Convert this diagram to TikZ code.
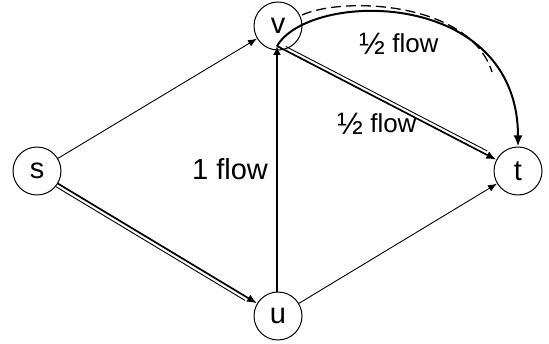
\documentclass[tikz,border=0pt]{standalone}
\usepackage{fontspec}
\setmainfont{Liberation Sans}
\usetikzlibrary{arrows.meta}
\newcommand\myhalf{\raisebox{-1.5pt}{\fontsize{31}{31}\selectfont ½}}
\tikzset{
  vert/.style={circle, draw, line width=1pt, minimum size=48pt, inner sep=0pt, font=\fontsize{29}{29}\selectfont},
  thinarrow/.style={line width=0.9pt, -{Latex[length=9pt,width=7pt]}},
  mainarrow/.style={line width=1.7pt, -{Latex[length=10pt,width=8pt]}},
  sideline/.style={line width=0.9pt},
  thickarrow/.style={line width=2.6pt, -{Latex[length=9pt,width=8pt]}},
  arcarrow/.style={line width=2pt, -{Latex[length=11pt,width=9pt]}},
  dasharc/.style={line width=1.3pt, dash pattern=on 10pt off 5pt},
  lbl/.style={anchor=base west, inner sep=0pt, font=\fontsize{26}{26}\selectfont},
  lblbig/.style={anchor=base, inner sep=0pt, font=\fontsize{29}{29}\selectfont}
}
\begin{document}
\begin{tikzpicture}[x=1pt, y=-1pt]
\useasboundingbox (0,0) rectangle (549,344);
\node[vert] (s) at (37,171) {s};
\node[vert] (v) at (278,26) {v};
\node[vert] (u) at (278,316) {u};
\node[vert] (t) at (518,171) {t};
\coordinate (vp) at (277,46);
\coordinate (up) at (277,292);
\coordinate (ds) at (302,15);
\coordinate (de) at (492,72);
% thin edges
\draw[thinarrow] (s) -- (v);
\draw[thinarrow] (u) -- (t);
% s -> u double
\draw[mainarrow] (s) -- (u);
\draw[sideline, shorten >=12pt, transform canvas={shift={(-1.8,3.2)}}] (s) -- (u);
% u -> v
\draw[thickarrow] (up) -- (vp);
% v -> t double
\draw[mainarrow] (vp) -- (t);
\draw[sideline, shorten <=8pt, shorten >=12pt, transform canvas={shift={(1.7,-3.2)}}] (vp) -- (t);
% arc
\draw[arcarrow] (vp) .. controls (310,-10) and (518,-12) .. (t.north);
\draw[dasharc] (ds) .. controls (345,-4) and (470,2) .. (de);
\node[lbl] (l1) at (359,53) {\myhalf\ flow};
\node[lbl] (l2) at (337,133) {\myhalf\ flow};
\node[lblbig] (l3) at (230,180) {1 flow};
\end{tikzpicture}
\end{document}
